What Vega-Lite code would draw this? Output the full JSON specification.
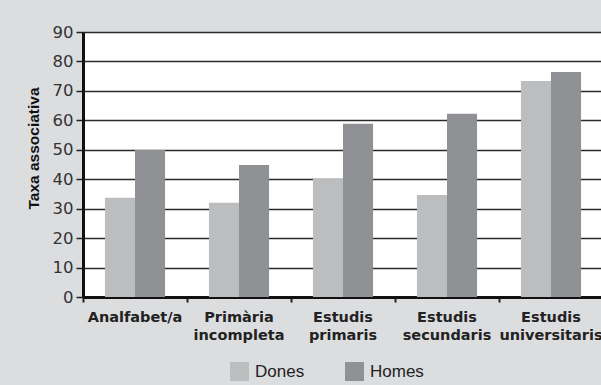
{
  "$schema": "https://vega.github.io/schema/vega-lite/v6.json",
  "width": 520,
  "height": 265,
  "autosize": "none",
  "padding": {"left": 83, "top": 32, "right": 0, "bottom": 88},
  "background": "#dcdddf",
  "config": {
    "view": {"fill": "white", "stroke": null},
    "font": "Liberation Sans"
  },
  "data": {
    "values": [
      {"nivell": "Analfabet/a", "sexe": "Dones", "taxa": 33.7},
      {"nivell": "Analfabet/a", "sexe": "Homes", "taxa": 49.9},
      {"nivell": "Primària incompleta", "sexe": "Dones", "taxa": 32.0},
      {"nivell": "Primària incompleta", "sexe": "Homes", "taxa": 44.8},
      {"nivell": "Estudis primaris", "sexe": "Dones", "taxa": 40.2},
      {"nivell": "Estudis primaris", "sexe": "Homes", "taxa": 58.8},
      {"nivell": "Estudis secundaris", "sexe": "Dones", "taxa": 34.6},
      {"nivell": "Estudis secundaris", "sexe": "Homes", "taxa": 62.2},
      {"nivell": "Estudis universitaris", "sexe": "Dones", "taxa": 73.4},
      {"nivell": "Estudis universitaris", "sexe": "Homes", "taxa": 76.4}
    ]
  },
  "mark": {"type": "bar"},
  "encoding": {
    "x": {
      "field": "nivell",
      "type": "nominal",
      "sort": null,
      "scale": {"paddingInner": 0, "paddingOuter": 0},
      "axis": {
        "title": null,
        "labelAngle": 0,
        "bandPosition": 0,
        "labelFont": "DejaVu Sans",
        "labelFontWeight": "bold",
        "labelFontSize": 14.5,
        "labelColor": "#222",
        "labelPadding": 8,
        "labelLineHeight": 18.5,
        "labelExpr": "datum.value == 'Analfabet/a' ? datum.value : split(datum.value, ' ')",
        "tickColor": "#222",
        "tickWidth": 2,
        "tickSize": 5,
        "domainColor": "#111",
        "domainWidth": 3,
        "grid": false
      }
    },
    "xOffset": {
      "field": "sexe",
      "type": "nominal",
      "scale": {"paddingInner": 0, "paddingOuter": 0.73}
    },
    "y": {
      "field": "taxa",
      "type": "quantitative",
      "scale": {"domain": [0, 90]},
      "axis": {
        "title": "Taxa associativa",
        "titleFont": "Liberation Sans",
        "titleFontWeight": "bold",
        "titleFontSize": 15.5,
        "titleColor": "#111",
        "titleX": -42,
        "titleY": 116,
        "titleAnchor": "middle",
        "titleAlign": "center",
        "values": [0, 10, 20, 30, 40, 50, 60, 70, 80, 90],
        "labelFont": "DejaVu Sans",
        "labelFontSize": 16.5,
        "labelColor": "#333",
        "labelPadding": 3,
        "tickSize": 7,
        "tickColor": "#222",
        "tickWidth": 1.5,
        "domainColor": "#111",
        "domainWidth": 3,
        "grid": true,
        "gridColor": "#2a2a2a",
        "gridWidth": 1.5
      }
    },
    "color": {
      "field": "sexe",
      "type": "nominal",
      "scale": {"domain": ["Dones", "Homes"], "range": ["#bcbdbf", "#909195"]},
      "legend": {
        "title": null,
        "orient": "none",
        "direction": "horizontal",
        "legendX": 147,
        "legendY": 330,
        "symbolType": "square",
        "symbolSize": 361,
        "symbolStrokeWidth": 0,
        "symbolOpacity": 1,
        "labelFontSize": 17,
        "labelFont": "Liberation Sans",
        "labelColor": "#222",
        "labelOffset": 6,
        "columnPadding": 40
      }
    }
  }
}
